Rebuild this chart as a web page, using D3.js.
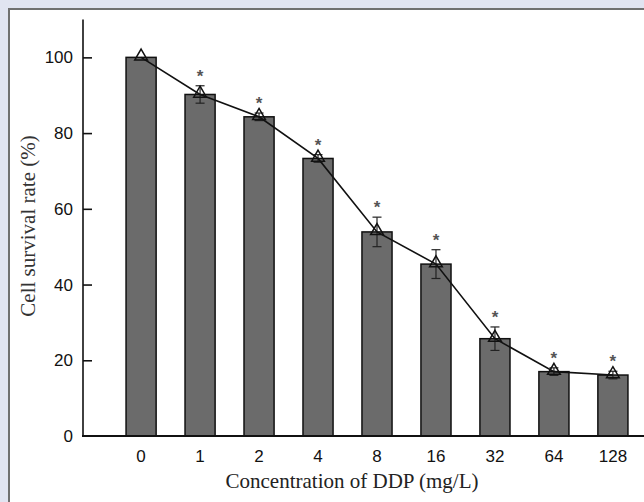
<!DOCTYPE html>
<html>
<head>
<meta charset="utf-8">
<script src="https://cdn.jsdelivr.net/npm/d3@7"></script>
<style>
  html, body { margin: 0; padding: 0; background: #e1e4f1; }
  #chart { position: absolute; left: 0; top: 0; }
</style>
</head>
<body>
<div id="chart"></div>
<script>
// data
const concentrations = ['0', '1', '2', '4', '8', '16', '32', '64', '128'];
const survival = [100, 90.2, 84.3, 73.3, 53.9, 45.4, 25.7, 17.0, 16.1];
const errors = [0, 2.3, 1.0, 1.0, 3.9, 3.8, 3.1, 1.0, 1.0];
const significant = [false, true, true, true, true, true, true, true, true];
const yTicks = [0, 20, 40, 60, 80, 100];

const width = 644, height = 502;
const svg = d3.select('#chart').append('svg')
  .attr('width', width)
  .attr('height', height);

// white panel with grey border
svg.append('rect')
  .attr('x', 9).attr('y', 9)
  .attr('width', 660).attr('height', 520)
  .attr('fill', '#fff')
  .attr('stroke', '#707070')
  .attr('stroke-width', 2);

const x = d3.scaleBand()
  .domain(concentrations)
  .range([83, 671])
  .paddingInner(0.49)
  .paddingOuter(0.73);

const y = d3.scaleLinear()
  .domain([0, 110])
  .range([436, 19.5]);

const g = svg.append('g');
const cx = i => x(concentrations[i]) + x.bandwidth() / 2;
const points = survival.map((v, i) => ({ i: i, v: v, err: errors[i], sig: significant[i] }));

// bars
g.selectAll('.bar')
  .data(points)
  .enter().append('rect')
  .attr('class', 'bar')
  .attr('x', d => x(concentrations[d.i]))
  .attr('y', d => y(d.v))
  .attr('width', x.bandwidth())
  .attr('height', d => y(0) - y(d.v))
  .attr('fill', '#6b6b6b')
  .attr('stroke', '#111')
  .attr('stroke-width', 1.5);

// error bars
points.forEach(function (d) {
  if (!d.err) return;
  const e = g.append('g').attr('stroke', '#222').attr('stroke-width', 1.2);
  e.append('line')
    .attr('x1', cx(d.i)).attr('x2', cx(d.i))
    .attr('y1', y(d.v + d.err)).attr('y2', y(d.v - d.err));
  [d.v + d.err, d.v - d.err].forEach(function (yy) {
    e.append('line')
      .attr('x1', cx(d.i) - 4.5).attr('x2', cx(d.i) + 4.5)
      .attr('y1', y(yy)).attr('y2', y(yy));
  });
});

// connecting line
const line = d3.line()
  .x(d => cx(d.i))
  .y(d => y(d.v));
g.append('path')
  .datum(points)
  .attr('fill', 'none')
  .attr('stroke', '#111')
  .attr('stroke-width', 1.6)
  .attr('d', line);

// open triangle markers
g.selectAll('.marker')
  .data(points)
  .enter().append('path')
  .attr('class', 'marker')
  .attr('transform', d => `translate(${cx(d.i)},${y(d.v) - 1})`)
  .attr('d', d3.symbol().type(d3.symbolTriangle).size(70))
  .attr('fill', 'none')
  .attr('stroke', '#111')
  .attr('stroke-width', 1.5);

// significance asterisks
g.selectAll('.star')
  .data(points.filter(d => d.sig))
  .enter().append('text')
  .attr('class', 'star')
  .attr('x', d => cx(d.i))
  .attr('y', d => y(d.v + d.err) - 4)
  .attr('text-anchor', 'middle')
  .attr('font-family', 'Liberation Sans, Arial, sans-serif')
  .attr('font-size', 17)
  .attr('font-weight', 'bold')
  .attr('fill', '#555')
  .text('*');

// y axis, ticks pointing inward
const yAxis = svg.append('g')
  .attr('transform', 'translate(83,0)')
  .call(d3.axisRight(y).tickValues(yTicks).tickSize(9).tickFormat(''));
yAxis.select('.domain').attr('stroke', '#111').attr('stroke-width', 1.6)
  .attr('d', `M0,${y(110)}V${y(0)}`);
yAxis.selectAll('.tick line').attr('stroke', '#111').attr('stroke-width', 1.6);
yAxis.selectAll('.tick').filter(d => d === 0).select('line').remove();

svg.append('g').selectAll('text')
  .data(yTicks)
  .enter().append('text')
  .attr('x', 73)
  .attr('y', d => y(d) + 6)
  .attr('text-anchor', 'end')
  .attr('font-family', 'Liberation Sans, Arial, sans-serif')
  .attr('font-size', 17)
  .attr('fill', '#111')
  .text(d => d);

// x axis
svg.append('line')
  .attr('x1', 82).attr('x2', 644)
  .attr('y1', y(0)).attr('y2', y(0))
  .attr('stroke', '#111').attr('stroke-width', 1.8);

svg.append('g').selectAll('text')
  .data(concentrations)
  .enter().append('text')
  .attr('x', (d, i) => cx(i))
  .attr('y', 462)
  .attr('text-anchor', 'middle')
  .attr('font-family', 'Liberation Sans, Arial, sans-serif')
  .attr('font-size', 17)
  .attr('fill', '#111')
  .text(d => d);

// axis titles
svg.append('text')
  .attr('x', 352).attr('y', 488)
  .attr('text-anchor', 'middle')
  .attr('font-family', 'Liberation Serif, Times New Roman, serif')
  .attr('font-size', 21)
  .attr('fill', '#222')
  .text('Concentration of DDP (mg/L)');

svg.append('text')
  .attr('transform', 'translate(35,226) rotate(-90)')
  .attr('text-anchor', 'middle')
  .attr('font-family', 'Liberation Serif, Times New Roman, serif')
  .attr('font-size', 21)
  .attr('fill', '#333')
  .text('Cell survival rate (%)');
</script>
</body>
</html>
